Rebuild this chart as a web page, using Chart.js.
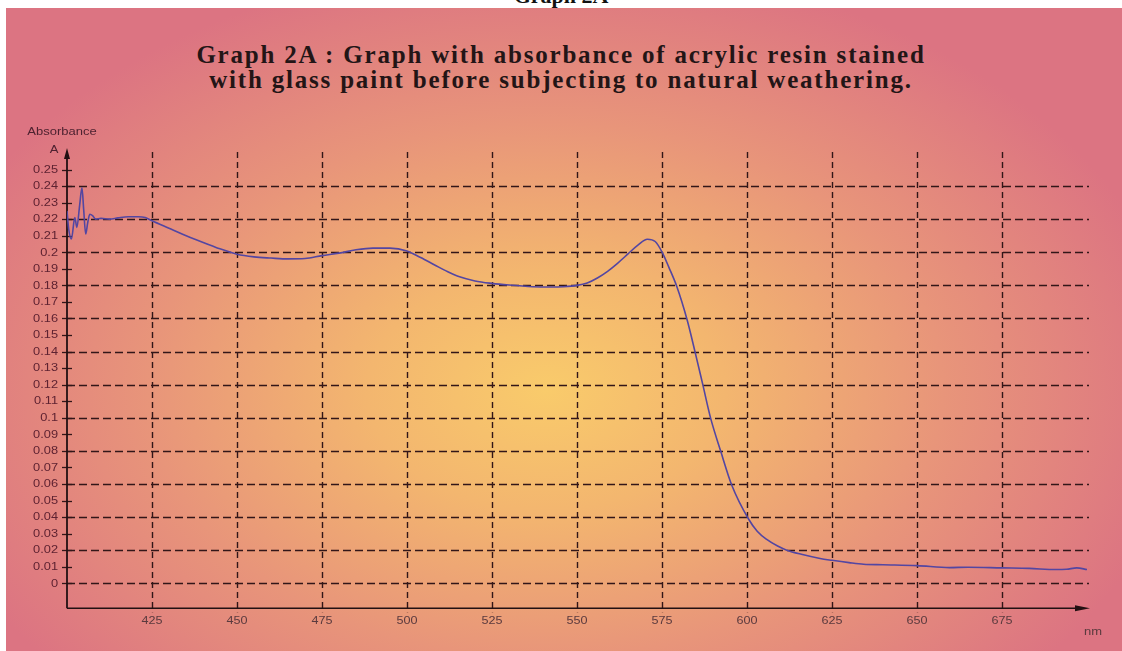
<!DOCTYPE html>
<html>
<head>
<meta charset="utf-8">
<script src="https://cdn.jsdelivr.net/npm/chart.js@4.4.1/dist/chart.umd.min.js"></script>
<style>
  html, body { margin:0; padding:0; width:1122px; height:651px; overflow:hidden; background:#ffffff; }
  #header { position:absolute; left:0; width:1122px; top:-17px; text-align:center;
    font:bold 22px "Liberation Serif", "Times New Roman", serif; color:#111; z-index:0; }
  #panel { position:absolute; left:6px; top:8px; width:1116px; height:643px; z-index:1;
    background: radial-gradient(ellipse 640px 430px at 540px 382px, #f9cb6b 0%, #f3b66f 28%, #e8957a 62%, #dc7482 100%) #da6f82; }
  .title { position:absolute; left:0; width:1122px; text-align:center; z-index:2;
    font:bold 25px "Liberation Serif", "Times New Roman", serif; color:#231516; letter-spacing:1.8px; white-space:nowrap; }
  #t1 { top:41px; }
  #t2 { top:66px; }
  #c { position:absolute; left:0; top:0; z-index:3; }
</style>
</head>
<body>
<div id="header">Graph 2A</div>
<div id="panel"></div>
<div class="title" id="t1">Graph 2A : Graph with absorbance of acrylic resin stained</div>
<div class="title" id="t2">with glass paint before subjecting to natural weathering.</div>
<canvas id="c" width="1122" height="651"></canvas>
<script>
// ---- data ----
const wavelengths = [400.0, 400.5, 401.3, 402.3, 402.9, 403.7, 404.4, 404.9, 405.5, 406.1, 406.7, 407.6, 408.4,
  410, 412.5, 415, 418, 421, 423, 425, 430, 434, 438, 444, 450, 455, 460, 465, 470, 475, 480, 485, 490, 495,
  500, 504, 508, 512, 515, 520, 525, 530, 537, 542, 546, 550, 553, 556, 559, 562, 565, 568,
  570.7, 573, 575.1, 577, 579.3, 582.3, 584.7, 587, 589.3, 592.3, 595.5, 600.4, 603, 605.8, 609, 611.7,
  616, 621.5, 625, 630, 634.3, 640, 650, 659.6, 665, 675, 683, 690.8, 694, 697, 700];
const absorbance = [0.225, 0.214, 0.208, 0.221, 0.215, 0.228, 0.239, 0.226, 0.211, 0.218, 0.223, 0.222, 0.220,
  0.2205, 0.220, 0.2208, 0.2215, 0.2215, 0.221, 0.219, 0.2145, 0.2109, 0.2075, 0.2028, 0.1988, 0.1972, 0.1965,
  0.1960, 0.1962, 0.1980, 0.1995, 0.2015, 0.2025, 0.2025, 0.2008, 0.1968, 0.1925, 0.1882, 0.1855, 0.1827,
  0.1812, 0.1802, 0.1792, 0.1790, 0.1792, 0.1800, 0.1815, 0.1845, 0.1885, 0.1935, 0.1990, 0.2045,
  0.2079, 0.2065, 0.1998, 0.1910, 0.1796, 0.1598, 0.1400, 0.1200, 0.0998, 0.0796, 0.0594, 0.0390, 0.0315,
  0.0265, 0.0225, 0.0200, 0.0175, 0.0150, 0.0139, 0.0125, 0.0115, 0.0112, 0.0107, 0.0095, 0.0097, 0.0093,
  0.0090, 0.0083, 0.0085, 0.0093, 0.0083];
const xTickValues = [425, 450, 475, 500, 525, 550, 575, 600, 625, 650, 675];
const xTickLabels = ['425', '450', '475', '500', '525', '550', '575', '600', '625', '650', '675'];
const yTickValues = [0, 0.01, 0.02, 0.03, 0.04, 0.05, 0.06, 0.07, 0.08, 0.09, 0.1, 0.11, 0.12, 0.13,
  0.14, 0.15, 0.16, 0.17, 0.18, 0.19, 0.2, 0.21, 0.22, 0.23, 0.24, 0.25];
const yTickLabels = ['0', '0.01', '0.02', '0.03', '0.04', '0.05', '0.06', '0.07', '0.08', '0.09', '0.1',
  '0.11', '0.12', '0.13', '0.14', '0.15', '0.16', '0.17', '0.18', '0.19', '0.2', '0.21', '0.22', '0.23',
  '0.24', '0.25'];
const yGridValues = [0, 0.02, 0.04, 0.06, 0.08, 0.1, 0.12, 0.14, 0.16, 0.18, 0.2, 0.22, 0.24];
const yAxisTitle = 'Absorbance';
const yUnit = 'A';
const xUnit = 'nm';

function sText(ctx, text, x, y, align, sx) {
  ctx.save();
  ctx.translate(x, y);
  ctx.scale(sx, 1);
  ctx.textAlign = align;
  ctx.fillText(text, 0, 0);
  ctx.restore();
}

const axesPlugin = {
  id: 'handAxes',
  beforeDatasetsDraw(chart) {
    const { ctx, chartArea: a, scales: { x, y } } = chart;
    ctx.save();
    ctx.strokeStyle = '#321618';
    ctx.lineWidth = 1.4;
    // horizontal dashed grid
    ctx.setLineDash([8, 4]);
    yGridValues.forEach(v => {
      const py = Math.round(y.getPixelForValue(v)) + 0.5;
      ctx.beginPath(); ctx.moveTo(a.left, py); ctx.lineTo(a.right + 2, py); ctx.stroke();
    });
    // vertical dashed grid
    ctx.setLineDash([6, 4]);
    xTickValues.forEach(v => {
      const px = Math.round(x.getPixelForValue(v)) + 0.5;
      ctx.beginPath(); ctx.moveTo(px, a.top + 4); ctx.lineTo(px, a.bottom + 4); ctx.stroke();
    });
    ctx.setLineDash([]);
    // y tick marks
    ctx.lineWidth = 1.3;
    yTickValues.forEach(v => {
      const py = Math.round(y.getPixelForValue(v)) + 0.5;
      ctx.beginPath(); ctx.moveTo(a.left - 5, py); ctx.lineTo(a.left + 5, py); ctx.stroke();
    });
    // axes
    ctx.strokeStyle = '#221012';
    ctx.fillStyle = '#221012';
    ctx.lineWidth = 1.8;
    ctx.beginPath(); ctx.moveTo(a.left, a.bottom); ctx.lineTo(a.left, a.top + 8); ctx.stroke();
    ctx.beginPath(); ctx.moveTo(a.left, a.top); ctx.lineTo(a.left - 3, a.top + 11); ctx.lineTo(a.left + 3, a.top + 11); ctx.closePath(); ctx.fill();
    ctx.lineWidth = 1.5;
    ctx.beginPath(); ctx.moveTo(a.left, a.bottom); ctx.lineTo(a.right - 8, a.bottom); ctx.stroke();
    ctx.beginPath(); ctx.moveTo(a.right + 3, a.bottom); ctx.lineTo(a.right - 12, a.bottom - 3); ctx.lineTo(a.right - 12, a.bottom + 3); ctx.closePath(); ctx.fill();
    // labels
    ctx.font = '10px "Liberation Sans", Arial, sans-serif';
    ctx.textBaseline = 'middle';
    ctx.fillStyle = '#5e2231';
    yTickValues.forEach((v, i) => {
      sText(ctx, yTickLabels[i], a.left - 9, y.getPixelForValue(v) + 0.5, 'right', 1.28);
    });
    ctx.fillStyle = '#5a3a3e';
    xTickValues.forEach((v, i) => {
      sText(ctx, xTickLabels[i], x.getPixelForValue(v), a.bottom + 13, 'center', 1.26);
    });
    ctx.fillStyle = '#4e2230';
    sText(ctx, yAxisTitle, a.left - 5, a.top - 16, 'center', 1.3);
    sText(ctx, yUnit, a.left - 13, a.top + 2, 'center', 1.3);
    ctx.fillStyle = '#5a3a3e';
    sText(ctx, xUnit, a.right + 6, a.bottom + 24, 'center', 1.3);
    ctx.restore();
  }
};

new Chart(document.getElementById('c'), {
  type: 'line',
  data: {
    datasets: [{
      data: wavelengths.map((w, i) => ({ x: w, y: absorbance[i] })),
      borderColor: '#5346a2',
      borderWidth: 1.6,
      pointRadius: 0,
      tension: 0.4,
      cubicInterpolationMode: 'monotone',
      fill: false
    }]
  },
  options: {
    responsive: false,
    animation: false,
    layout: { padding: { left: 67, right: 35, top: 148, bottom: 42.7 } },
    plugins: { legend: { display: false }, title: { display: false }, tooltip: { enabled: false } },
    scales: {
      x: { type: 'linear', min: 400, max: 700, display: false },
      y: { type: 'linear', min: -0.0151, max: 0.263, display: false }
    }
  },
  plugins: [axesPlugin]
});
</script>
</body>
</html>
